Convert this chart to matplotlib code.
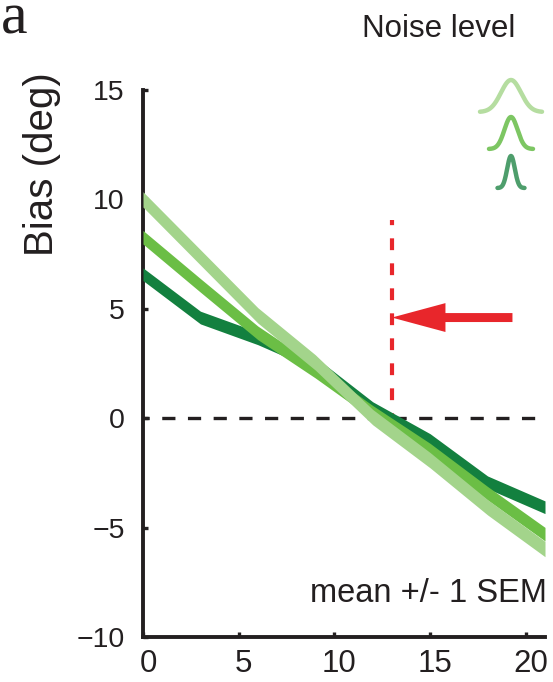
import numpy as np
import matplotlib
matplotlib.use("Agg")
import matplotlib.pyplot as plt
from matplotlib.transforms import ScaledTranslation

plt.rcParams['font.family'] = ['Liberation Sans', 'DejaVu Sans']
plt.rcParams['lines.scale_dashes'] = False

# stimulus orientation (deg) and mean bias for each noise level
orient = [0, 3, 6, 9, 12, 15, 18, 21]
bias_low = [6.58, 4.6, 3.65, 2.5, 0.46, -1.0, -2.93, -4.07]
bias_mid = [8.27, 6.07, 3.9, 2.15, 0.27, -1.46, -3.43, -5.3]
bias_high = [10.0, 7.35, 4.7, 2.55, 0.05, -1.92, -4.07, -5.98]
sem = [0.29, 0.31, 0.35]

ink = '#231f20'
c_low, c_mid, c_high = '#13803f', '#6bbe45', '#a3d48b'
red = '#e8262b'

fig = plt.figure(figsize=(5.53, 6.82), dpi=100)
ax = fig.add_axes([143/553, 45/682, 402/553, 547/682])

x = np.array(orient, dtype=float)
for y, s, c in [(bias_low, sem[0], c_low), (bias_mid, sem[1], c_mid),
                (bias_high, sem[2], c_high)]:
    y = np.array(y)
    ax.fill_between(x, y - s, y + s, color=c, lw=0, zorder=3)

# zero line
ax.plot([0, 21], [0, 0], color=ink, lw=2.4, ls=(5, (9.5, 9)), zorder=2)

# boundary marker and arrow
ax.plot([13, 13], [9.04, 0], color=red, lw=3.0, ls=(4.8, (8.5, 9.5)), zorder=2)
ax.arrow(19.3, 4.6, -6.3, 0, width=0.41, head_width=1.32, head_length=2.8,
         length_includes_head=True, color=red, lw=0, zorder=4)

ax.set_xlim(0, 21)
ax.set_ylim(-10, 15)
ax.set_xticks([0, 5, 10, 15, 20])
ax.set_yticks([-10, -5, 0, 5, 10, 15])
for side in ['top', 'right']:
    ax.spines[side].set_visible(False)
for side in ['left', 'bottom']:
    ax.spines[side].set_linewidth(2.8)
    ax.spines[side].set_color(ink)
ax.tick_params(axis='both', direction='in', length=3.5, width=2.4, color=ink,
               labelcolor=ink)
ax.tick_params(axis='y', labelsize=20.5, pad=13)
ax.tick_params(axis='x', labelsize=22.5, pad=9)
shift = ScaledTranslation(5/100, 0, fig.dpi_scale_trans)
for lab in ax.get_xticklabels():
    lab.set_transform(lab.get_transform() + shift)
ax.patch.set_alpha(0)

fig.text(42/553, 1 - 164/682, 'Bias (deg)', rotation=90, ha='center',
         va='center', fontsize=29, color=ink)
fig.text(547/553, 1 - 602/682, 'mean +/- 1 SEM', ha='right', va='baseline',
         fontsize=23.5, color=ink)
fig.text(515/553, 1 - 37/682, 'Noise level', ha='right', va='baseline',
         fontsize=22.5, color=ink)
fig.text(1/553, 1 - 33/682, 'a', ha='left', va='baseline', fontsize=43,
         family='Liberation Serif', color=ink)

# noise level icons: narrower tuning for lower noise
icon = fig.add_axes([470/553, 1 - 195/682, 82/553, 125/682])
icon.set_xlim(470, 552)
icon.set_ylim(195, 70)
icon.axis('off')
t = np.linspace(-1, 1, 200)
for half, sig, top, c in [(31, 10, 80, '#b5dda0'), (22, 6.5, 117, '#7dc663'),
                          (13.5, 3.8, 156, '#4e9e6c')]:
    xx = 511 + half * t
    yy = top + 32 - 32 * np.exp(-(xx - 511) ** 2 / (2 * sig ** 2))
    icon.plot(xx, yy, color=c, lw=3.2, solid_capstyle='round')

fig.savefig('out.png', dpi=100)
